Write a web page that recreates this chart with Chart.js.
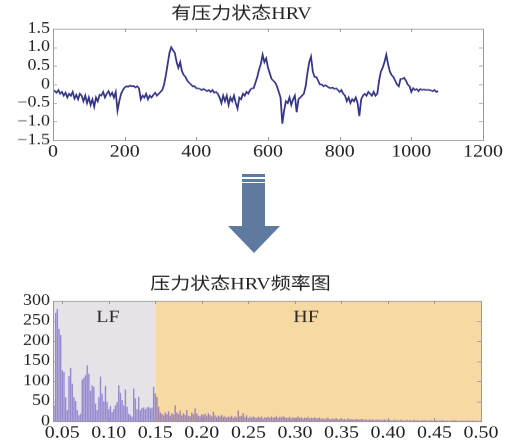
<!DOCTYPE html>
<html>
<head>
<meta charset="utf-8">
<script src="https://cdn.jsdelivr.net/npm/chart.js@4"></script>
<style>
  body { margin: 0; background: #fff; width: 507px; height: 446px; overflow: hidden; position: relative; }
  .wrap { position: absolute; left: 0; width: 507px; transform: scaleY(0.82); transform-origin: 0 0; }
  .arrow div { position: absolute; background: #5f7aa0; }
</style>
</head>
<body>
<div class="wrap" style="top:0"><canvas id="hrv" width="507" height="201"></canvas></div>
<div class="arrow">
  <div style="left:242px;top:174px;width:23px;height:3px"></div>
  <div style="left:242px;top:179px;width:23px;height:3px"></div>
  <div style="left:242px;top:183px;width:23px;height:44px"></div>
  <div style="left:228px;top:226px;width:0;height:0;background:none;border-left:26px solid transparent;border-right:26px solid transparent;border-top:27px solid #5f7aa0"></div>
</div>
<div class="wrap" style="top:268px"><canvas id="psd" width="507" height="217"></canvas></div>

<script>
const FONT = '"Liberation Serif", "Noto Sans CJK SC", serif';

// HRV 时域信号, 每 5 个采样点读一个值
const HRV_STEP = 5;
const hrvY = [
  -0.15, -0.18, -0.22, -0.15, -0.25, -0.2, -0.3, -0.22, -0.35, -0.25,
  -0.3, -0.2, -0.38, -0.28, -0.4, -0.25, -0.3, -0.45, -0.3, -0.5,
  -0.35, -0.55, -0.4, -0.6, -0.35, -0.45, -0.28, -0.3, -0.2, -0.35,
  -0.25, -0.18, -0.3, -0.22, -0.35, -0.2, -0.7, -0.45, -0.25, -0.15,
  -0.08, -0.05, -0.06, -0.03, -0.05, -0.04, -0.08, -0.05, -0.1, -0.4,
  -0.3, -0.35, -0.25, -0.4, -0.3, -0.35, -0.28, -0.22, -0.3, -0.25,
  -0.2, -0.15, 0.0, 0.25, 0.55, 0.85, 1.0, 0.92, 0.85, 0.6,
  0.45, 0.6, 0.35, 0.25, 0.2, 0.1, 0.05, 0.0, -0.05, -0.05,
  -0.1, -0.1, -0.12, -0.15, -0.12, -0.15, -0.18, -0.15, -0.2, -0.15,
  -0.22, -0.2, -0.25, -0.35, -0.5, -0.3, -0.45, -0.3, -0.55, -0.35,
  -0.45, -0.3, -0.5, -0.65, -0.35, -0.4, -0.25, -0.3, -0.2, -0.25,
  -0.15, -0.1, -0.1, 0.05, 0.2, 0.4, 0.55, 0.8, 0.6, 0.7,
  0.45, 0.3, 0.15, 0.1, 0.05, -0.05, -0.2, -0.35, -1.05, -0.7,
  -0.45, -0.5, -0.35, -0.55, -0.4, -0.3, -0.75, -0.4, -0.35, -0.3,
  -0.25, -0.05, 0.3, 0.6, 0.75, 0.35, 0.2, 0.2, 0.1, 0.0,
  0.0, -0.05, -0.02, -0.05, -0.08, -0.1, -0.08, -0.12, -0.1, -0.15,
  -0.2, -0.15, -0.25, -0.3, -0.45, -0.35, -0.5, -0.4, -0.45, -0.35,
  -0.5, -0.85, -0.4, -0.3, -0.25, -0.3, -0.2, -0.25, -0.3, -0.2,
  -0.3, -0.25, 0.1, 0.35, 0.45, 0.6, 0.8, 0.55, 0.35, 0.25,
  0.2, 0.1, 0.0, -0.05, 0.15, 0.15, 0.18, 0.1, 0.0, -0.05,
  -0.2, -0.1, -0.15, -0.12, -0.18, -0.12, -0.15, -0.13, -0.15, -0.14,
  -0.15, -0.16, -0.18, -0.15, -0.2, -0.18
];
const hrvXTicks = [0, 200, 400, 600, 800, 1000, 1200];
const hrvXTickLabels = ['0', '200', '400', '600', '800', '1000', '1200'];
const hrvYTicks = [-1.5, -1.0, -0.5, 0, 0.5, 1.0, 1.5];
const hrvYTickLabels = ['\u22121.5', '\u22121.0', '\u22120.5', '0', '0.5', '1.0', '1.5'];

// 频谱, 频率 = FREQ_START + i * FREQ_STEP
const FREQ_START = 0.0411;
const FREQ_STEP = 0.001784;
const LF_HF_SPLIT = 0.15;
const psdValues = [
  40, 270, 280, 230, 215, 127, 123, 60, 28, 112,
  133, 94, 60, 51, 28, 15, 19, 104, 109, 115,
  140, 119, 76, 90, 86, 44, 28, 60, 111, 69,
  50, 88, 48, 30, 38, 23, 30, 40, 48, 90,
  71, 53, 40, 79, 36, 19, 15, 11, 82, 57,
  30, 61, 28, 33, 35, 30, 34, 36, 32, 34,
  86, 70, 61, 36, 22,
  19, 15, 22, 18, 25, 14, 20, 17, 40, 22, 18,
  27, 15, 20, 16, 28, 14, 12, 22, 18, 32, 20, 14, 12, 18, 16,
  19, 14, 20, 16, 12, 24, 15, 10, 14, 12, 16, 11, 13, 9, 12, 10, 14, 8, 12, 10,
  27, 12, 14, 20, 10, 15, 8, 11, 9, 12, 10, 8, 11, 9, 12, 7, 10, 9, 11, 8,
  12, 9, 10, 13, 8, 11, 9, 12, 10, 8, 9, 11, 7, 10, 8, 9, 12, 8, 10, 7,
  9, 8, 11, 7, 9, 8, 10, 7, 8, 9,
  6, 8, 5, 7, 9, 6, 5, 7, 6, 8, 5, 6, 7, 5, 6, 4, 7, 5, 6, 5,
  4, 6, 5, 4, 6, 5, 4, 5, 3, 5, 4, 5, 3, 4, 5, 3, 4, 3, 5, 4,
  3, 4, 3, 2, 4, 3, 3, 2, 4, 3, 2, 3, 3, 2, 3, 2, 4, 2, 3, 2,
  2, 3, 2, 3, 2, 2, 3, 2, 2, 3, 2, 2, 2, 3, 2, 2, 2, 1, 2, 2,
  3, 2, 2, 1, 2, 2, 2, 1, 2, 2, 1, 2, 2, 1, 2, 1, 2
];
const psdXTicks = [0.05, 0.10, 0.15, 0.20, 0.25, 0.30, 0.35, 0.40, 0.45, 0.50];
const psdXTickLabels = ['0.05', '0.10', '0.15', '0.20', '0.25', '0.30', '0.35', '0.40', '0.45', '0.50'];
const psdYTicks = [0, 50, 100, 150, 200, 250, 300];
const bandLabels = [
  { text: 'LF', x: 0.099, y: 257 },
  { text: 'HF', x: 0.312, y: 257 }
];

// matplotlib 风格: 灰色边框 + 向内刻度
const boxPlugin = {
  id: 'box',
  afterDatasetsDraw(chart) {
    const { ctx, chartArea: a, scales: { x, y } } = chart;
    ctx.save();
    ctx.strokeStyle = '#9a9a9a';
    ctx.lineWidth = 1;
    ctx.beginPath();
    x.ticks.forEach(t => {
      const px = Math.round(x.getPixelForValue(t.value)) + 0.5;
      ctx.moveTo(px, a.bottom); ctx.lineTo(px, a.bottom - 4);
      ctx.moveTo(px, a.top); ctx.lineTo(px, a.top + 4);
    });
    y.ticks.forEach(t => {
      const py = Math.round(y.getPixelForValue(t.value)) + 0.5;
      ctx.moveTo(a.left, py); ctx.lineTo(a.left + 4, py);
      ctx.moveTo(a.right, py); ctx.lineTo(a.right - 4, py);
    });
    ctx.stroke();
    ctx.strokeRect(Math.round(a.left) + 0.5, Math.round(a.top) + 0.5,
      Math.round(a.right - a.left), Math.round(a.bottom - a.top));
    ctx.restore();
  }
};

const bandPlugin = {
  id: 'bands',
  beforeDatasetsDraw(chart) {
    const { ctx, chartArea: a, scales: { x } } = chart;
    const split = x.getPixelForValue(LF_HF_SPLIT);
    ctx.save();
    ctx.fillStyle = '#e6e2e8';
    ctx.fillRect(a.left, a.top, split - a.left, a.bottom - a.top);
    ctx.fillStyle = '#f6d9a3';
    ctx.fillRect(split, a.top, a.right - split, a.bottom - a.top);
    ctx.restore();
  },
  afterDatasetsDraw(chart) {
    const { ctx, scales: { x, y } } = chart;
    ctx.save();
    ctx.font = '20px ' + FONT;
    ctx.fillStyle = '#2a2a2a';
    ctx.textAlign = 'center';
    ctx.textBaseline = 'middle';
    bandLabels.forEach(b => ctx.fillText(b.text, x.getPixelForValue(b.x), y.getPixelForValue(b.y)));
    ctx.restore();
  }
};

function fixedTicks(values) {
  return scale => { scale.ticks = values.map(v => ({ value: v })); };
}

const tickFont = size => ({ family: FONT, size: size });

new Chart(document.getElementById('hrv'), {
  type: 'line',
  data: {
    datasets: [{
      data: hrvY.map((v, i) => ({ x: i * HRV_STEP, y: v })),
      borderColor: '#363688',
      borderWidth: 1.8,
      pointRadius: 0,
      tension: 0
    }]
  },
  options: {
    responsive: false,
    animation: false,
    devicePixelRatio: 1,
    layout: { padding: { left: 0, right: 24, top: 0, bottom: 0 } },
    plugins: {
      legend: { display: false },
      tooltip: { enabled: false },
      title: {
        display: true, text: '有压力状态HRV', color: '#222',
        font: { family: FONT, size: 20, weight: 'normal' },
        padding: { top: 6, bottom: 5 }
      }
    },
    scales: {
      x: {
        type: 'linear', min: 0, max: 1200,
        afterBuildTicks: fixedTicks(hrvXTicks),
        afterFit: s => { s.height = 30; },
        grid: { display: false, drawTicks: false },
        border: { display: false },
        ticks: {
          color: '#222', font: tickFont(20), padding: 3, maxRotation: 0, autoSkip: false,
          callback: (v, i) => hrvXTickLabels[i]
        }
      },
      y: {
        min: -1.5, max: 1.5,
        afterBuildTicks: fixedTicks(hrvYTicks),
        afterFit: s => { s.width = 53; },
        grid: { display: false, drawTicks: false },
        border: { display: false },
        ticks: {
          color: '#222', font: tickFont(18), padding: 3, autoSkip: false,
          callback: (v, i) => hrvYTickLabels[i]
        }
      }
    }
  },
  plugins: [boxPlugin]
});

new Chart(document.getElementById('psd'), {
  type: 'bar',
  data: {
    datasets: [{
      data: psdValues.map((v, i) => ({ x: FREQ_START + i * FREQ_STEP, y: v })),
      backgroundColor: 'rgba(98, 78, 190, 0.6)',
      borderWidth: 0,
      barPercentage: 0.85,
      categoryPercentage: 1
    }]
  },
  options: {
    responsive: false,
    animation: false,
    devicePixelRatio: 1,
    layout: { padding: { left: 0, right: 26, top: 0, bottom: 0 } },
    plugins: {
      legend: { display: false },
      tooltip: { enabled: false },
      title: {
        display: true, text: '压力状态HRV频率图', color: '#222',
        font: { family: FONT, size: 20, weight: 'normal' },
        padding: { top: 9, bottom: 7 }
      }
    },
    scales: {
      x: {
        type: 'linear', min: 0.04, max: 0.5, offset: false,
        afterBuildTicks: fixedTicks(psdXTicks),
        afterFit: s => { s.height = 30; },
        grid: { display: false, drawTicks: false },
        border: { display: false },
        ticks: {
          color: '#222', font: tickFont(20), padding: 3, maxRotation: 0, autoSkip: false,
          callback: (v, i) => psdXTickLabels[i]
        }
      },
      y: {
        min: 0, max: 300,
        afterBuildTicks: fixedTicks(psdYTicks),
        afterFit: s => { s.width = 53; },
        grid: { display: false, drawTicks: false },
        border: { display: false },
        ticks: { color: '#222', font: tickFont(18), padding: 3, autoSkip: false }
      }
    }
  },
  plugins: [bandPlugin, boxPlugin]
});
</script>
</body>
</html>
